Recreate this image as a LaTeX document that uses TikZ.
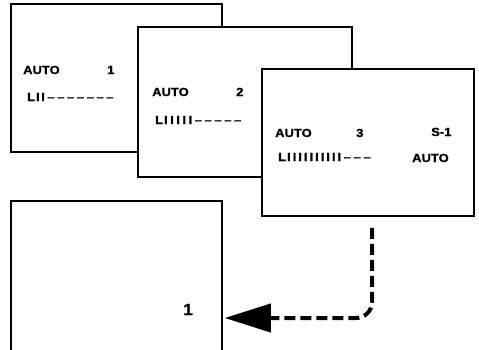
\documentclass[tikz,border=0pt]{standalone}
\usepackage{fontspec}
\setmainfont{Liberation Sans}
\newfontfamily\lab[FakeStretch=1.1,FakeBold=1.2]{Liberation Sans}
\usetikzlibrary{arrows.meta}
\newcommand\dsh{\kern2.6pt–}
\newcommand\vb[1]{I\kern#1}
\tikzset{
  screen/.style={draw=black, line width=1.5pt, fill=white, rectangle, inner sep=0pt},
  txt/.style={inner sep=0pt, anchor=base west, font=\lab\bfseries\fontsize{11.8}{13}\selectfont},
  bigtxt/.style={inner sep=0pt, anchor=base west, font=\lab\bfseries\fontsize{16}{18}\selectfont},
  flow/.style={line width=4pt, dash pattern=on 11pt off 5pt, rounded corners=16pt,
    -{Triangle[length=46pt,width=28pt]}}
}
\begin{document}
\begin{tikzpicture}[x=1pt,y=-1pt]
\useasboundingbox (0,0) rectangle (479,349);
\clip (0,0) rectangle (479,349);
% screen 1
\node[screen, minimum width=211pt, minimum height=148pt] (box1) at (116.5,78) {};
\node[txt] (a1) at (23,74) {AUTO};
\node[txt] (n1) at (107,74) {1};
\node[txt] (l1) at (27,101) {L\kern1pt\vb{1.5pt}I\dsh\dsh\dsh\dsh\dsh\dsh\dsh};
% screen 2
\node[screen, minimum width=214pt, minimum height=150pt] (box2) at (245,102) {};
\node[txt] (a2) at (152,96) {AUTO};
\node[txt] (n2) at (236,96) {2};
\node[txt] (l2) at (155,124) {L\kern1pt\vb{2.5pt}\vb{2.5pt}\vb{2.5pt}\vb{2.5pt}I\dsh\dsh\dsh\dsh\dsh};
% screen 3
\node[screen, minimum width=212pt, minimum height=147pt] (box3) at (368,142.5) {};
\node[txt] (a3) at (275,137) {AUTO};
\node[txt] (n3) at (356,137) {3};
\node[txt] (s3) at (431,136) {S-1};
\node[txt] (l3) at (278,161) {L\kern1pt\vb{2pt}\vb{2pt}\vb{2pt}\vb{2pt}\vb{2pt}\vb{2pt}\vb{2pt}\vb{2pt}\vb{2pt}I\dsh\dsh\dsh};
\node[txt] (b3) at (412,162) {AUTO};
% screen 4 (runs off the bottom)
\node[screen, minimum width=211pt, minimum height=199pt] (box4) at (116.5,300.5) {};
\node[bigtxt] (n4) at (183,315) {1};
% connector
\coordinate (start) at ([xshift=4pt,yshift=-11pt]box3.south);
\coordinate (end) at ([xshift=2pt]box4.east |- 0,318);
\draw[flow] (start) |- (end);
\end{tikzpicture}
\end{document}
